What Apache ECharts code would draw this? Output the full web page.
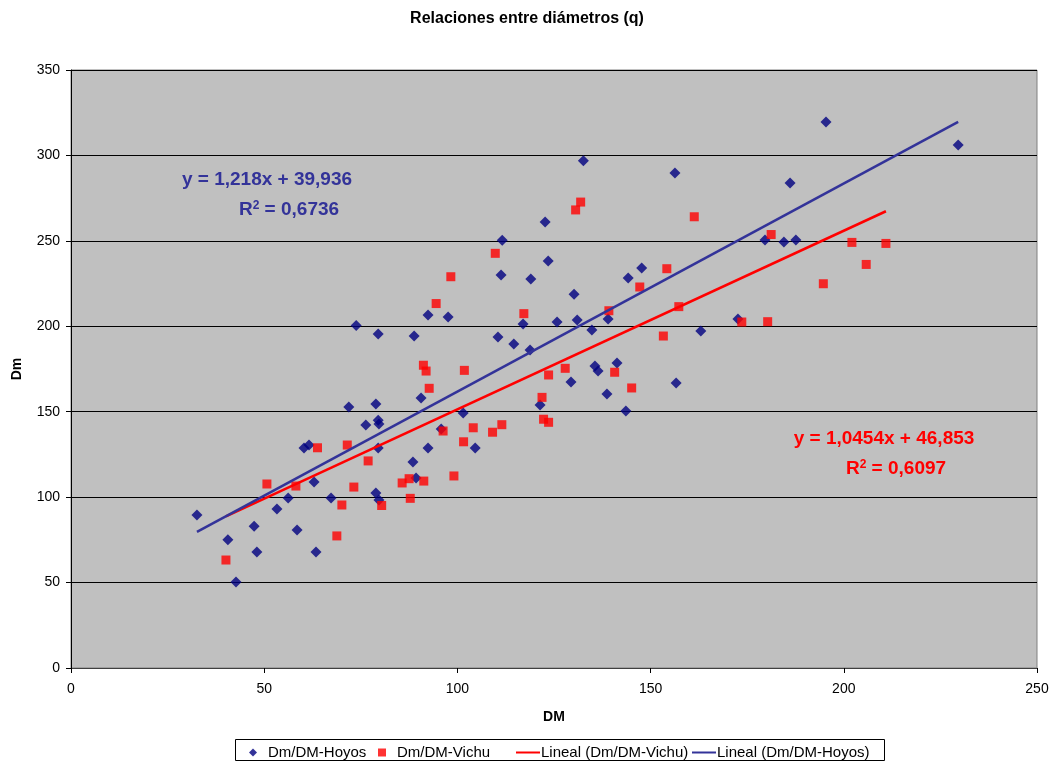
<!DOCTYPE html>
<html>
<head>
<meta charset="utf-8">
<script src="https://cdn.jsdelivr.net/npm/echarts@6/dist/echarts.min.js"></script>
<style>
  html, body { margin: 0; padding: 0; background: #ffffff; }
  #chart { width: 1054px; height: 765px; }
</style>
</head>
<body>
<div id="chart"></div>
<script>
// Hoyos measurements: DM (x) and Dm (y)
const hoyosDM = [32.6, 40.6, 42.7, 47.4, 48.1, 53.3, 56.2, 58.5, 60.3, 61.6, 62.9, 63.4, 67.3, 71.9, 73.8, 76.3, 78.9, 78.9, 79.5, 79.5, 79.7, 79.7, 79.5, 88.5, 89.3, 88.8, 90.6, 92.4, 92.4, 95.8, 97.6, 101.5, 104.6, 110.5, 111.3, 111.6, 114.6, 117.0, 118.8, 119.0, 121.4, 122.7, 123.5, 125.8, 129.4, 130.2, 131.0, 132.6, 134.8, 135.6, 136.4, 138.7, 139.0, 141.3, 143.6, 144.2, 147.7, 156.3, 156.6, 163.0, 172.6, 179.6, 184.5, 186.1, 187.6, 195.4, 229.6];
const hoyosDm = [89.5, 75.0, 50.3, 83.0, 67.9, 93.0, 99.5, 80.8, 128.8, 130.5, 108.9, 67.9, 99.5, 152.8, 200.5, 142.2, 154.5, 102.4, 145.0, 128.8, 98.3, 142.8, 195.5, 120.6, 111.2, 194.3, 158.0, 206.6, 128.8, 139.9, 205.4, 149.2, 128.8, 193.7, 230.0, 250.3, 189.6, 201.3, 186.1, 227.7, 153.9, 261.0, 238.2, 202.5, 167.4, 218.7, 203.7, 296.9, 197.8, 176.7, 173.8, 160.4, 204.3, 178.5, 150.4, 228.3, 234.1, 289.7, 166.8, 197.2, 204.3, 250.5, 249.3, 283.9, 250.5, 319.6, 306.1];

// Vichu measurements: DM (x) and Dm (y)
const vichuDM = [40.1, 50.7, 58.2, 63.8, 68.8, 70.1, 71.5, 73.2, 76.9, 80.4, 85.7, 87.5, 87.8, 91.3, 91.2, 91.9, 92.7, 94.5, 96.3, 98.3, 99.1, 101.6, 101.8, 104.1, 109.1, 109.8, 111.5, 117.2, 121.9, 122.3, 123.6, 123.6, 127.9, 130.6, 131.9, 139.2, 140.7, 145.1, 147.2, 153.3, 154.2, 157.3, 161.3, 173.6, 180.3, 181.2, 194.7, 202.1, 205.8, 210.9];
const vichuDm = [63.2, 107.7, 106.5, 128.9, 77.3, 95.4, 130.5, 105.9, 121.2, 95.1, 108.3, 110.8, 99.3, 109.4, 177.2, 173.8, 163.7, 213.3, 138.7, 229.0, 112.4, 132.4, 174.2, 140.6, 138.0, 242.7, 142.4, 207.4, 158.4, 145.6, 143.8, 171.5, 175.4, 268.1, 272.7, 209.1, 173.1, 163.9, 223.0, 194.3, 233.7, 211.5, 264.1, 202.5, 202.7, 253.7, 224.9, 249.1, 236.2, 248.5];

// Linear fits [slope, intercept, R²]
const fitHoyos = [1.218, 39.936, 0.6736];
const fitVichu = [1.0454, 46.853, 0.6097];

// Axis ticks
const xTicks = [0, 50, 100, 150, 200, 250];
const yTicks = [0, 50, 100, 150, 200, 250, 300, 350];

const seriesNames = ['Dm/DM-Hoyos', 'Dm/DM-Vichu', 'Lineal (Dm/DM-Vichu)', 'Lineal (Dm/DM-Hoyos)'];

function pairs(xs, ys) { return xs.map((x, i) => [x, ys[i]]); }
function fitLine(xs, fit) {
  const lo = Math.min(...xs), hi = Math.max(...xs);
  return [[lo, fit[0] * lo + fit[1]], [hi, fit[0] * hi + fit[1]]];
}
function fmt(v) { return String(v).replace('.', ','); }

const FAMILY = '"Liberation Sans", Arial, sans-serif';
const chart = echarts.init(document.getElementById('chart'), null, { renderer: 'canvas' });

// Regression equation and R² labels
function eqText(fit, color, cx1, cy1, cx2, cy2) {
  const bold = 'bold 19px ' + FAMILY;
  return [
    { type: 'text', x: cx1, y: cy1, z: 10,
      style: { text: 'y = ' + fmt(fit[0]) + 'x + ' + fmt(fit[1]), font: bold,
               fontWeight: 'bold', fontSize: 19, fontFamily: FAMILY,
               fill: color, align: 'center', verticalAlign: 'middle' } },
    { type: 'text', x: cx2, y: cy2, z: 10,
      style: {
        text: '{a|R}{s|2}{a| = ' + fmt(fit[2]) + '}', font: bold,
        fontWeight: 'bold', fontSize: 19, fontFamily: FAMILY,
        fill: color, align: 'center', verticalAlign: 'middle',
        rich: {
          a: { font: bold, fontWeight: 'bold', fontSize: 19, fontFamily: FAMILY, fill: color },
          s: { font: 'bold 12px ' + FAMILY, fontWeight: 'bold', fontSize: 12, fontFamily: FAMILY,
               fill: color, padding: [0, 0, 9, 0] }
        }
      } }
  ];
}

// One legend block per entry so each sits at its own place in the key
function legendItem(name, icon, left, w, h, padLeft) {
  return {
    data: [{ name: name, icon: icon }],
    left: left, top: 740, itemWidth: w, itemHeight: h,
    textStyle: { fontFamily: FAMILY, fontSize: 15, color: '#000', padding: [0, 0, 0, padLeft] }
  };
}
const LINE_ICON = 'path://M0,0 L24,0 L24,2 L0,2 Z';

chart.setOption({
  animation: false,
  backgroundColor: '#ffffff',
  textStyle: { fontFamily: FAMILY },
  title: {
    text: 'Relaciones entre diámetros (q)',
    left: 'center', top: 6,
    textStyle: { fontFamily: FAMILY, fontWeight: 'bold', fontSize: 16, color: '#000' }
  },
  grid: {
    left: 71, right: 17, top: 70, bottom: 97,
    show: true, backgroundColor: '#C0C0C0', borderColor: '#808080', borderWidth: 1
  },
  legend: [
    legendItem(seriesNames[0], 'diamond', 244, 8, 8, 6),
    legendItem(seriesNames[1], 'rect', 373, 8, 8, 6),
    legendItem(seriesNames[2], LINE_ICON, 511, 24, 2, -4),
    legendItem(seriesNames[3], LINE_ICON, 687, 24, 2, -4)
  ],
  xAxis: {
    type: 'value', min: xTicks[0], max: xTicks[xTicks.length - 1], interval: 50,
    name: 'DM', nameLocation: 'middle', nameGap: 42,
    nameTextStyle: { fontFamily: FAMILY, fontWeight: 'bold', fontSize: 14, color: '#000' },
    axisLine: { show: true, onZero: false, lineStyle: { color: '#404040', width: 1 } },
    axisTick: { show: true, length: 5, lineStyle: { color: '#000' } },
    axisLabel: { fontFamily: FAMILY, fontSize: 14, color: '#000', margin: 14 },
    splitLine: { show: false }
  },
  yAxis: {
    type: 'value', min: yTicks[0], max: yTicks[yTicks.length - 1], interval: 50,
    name: 'Dm', nameLocation: 'middle', nameGap: 47, nameRotate: 90,
    nameTextStyle: { fontFamily: FAMILY, fontWeight: 'bold', fontSize: 14, color: '#000' },
    axisLine: { show: true, onZero: false, lineStyle: { color: '#000', width: 1 } },
    axisTick: { show: true, length: 5, lineStyle: { color: '#000' } },
    axisLabel: { fontFamily: FAMILY, fontSize: 14, color: '#000', margin: 11 },
    splitLine: { show: true, lineStyle: { color: '#000', width: 1 } }
  },
  series: [
    {
      name: seriesNames[0], type: 'scatter', data: pairs(hoyosDM, hoyosDm),
      symbol: 'diamond', symbolSize: 11, itemStyle: { color: '#000080' }, z: 3
    },
    {
      name: seriesNames[1], type: 'scatter', data: pairs(vichuDM, vichuDm),
      symbol: 'rect', symbolSize: 9, itemStyle: { color: '#FF0000' }, z: 3
    },
    {
      name: seriesNames[2], type: 'line', data: fitLine(vichuDM, fitVichu),
      showSymbol: false, symbol: 'none', lineStyle: { color: '#FF0000', width: 2.5 },
      itemStyle: { color: '#FF0000' }, z: 4
    },
    {
      name: seriesNames[3], type: 'line', data: fitLine(hoyosDM, fitHoyos),
      showSymbol: false, symbol: 'none', lineStyle: { color: '#333399', width: 2.5 },
      itemStyle: { color: '#333399' }, z: 4
    }
  ],
  graphic: [
    { type: 'rect', shape: { x: 235.5, y: 739.5, width: 649, height: 21 },
      style: { fill: 'none', stroke: '#000', lineWidth: 1 }, z: 0 }
  ].concat(eqText(fitHoyos, '#333399', 267, 180, 289, 210))
   .concat(eqText(fitVichu, '#FF0000', 884, 439, 896, 469))
});
</script>
</body>
</html>
